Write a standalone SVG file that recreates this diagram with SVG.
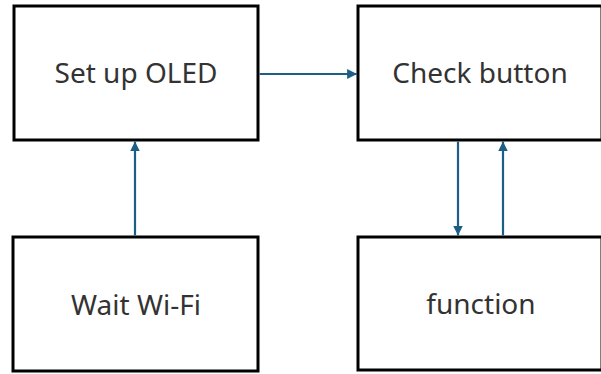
<svg xmlns="http://www.w3.org/2000/svg" width="601" height="374" viewBox="0 0 601 374">
<style>
.box{fill:#fff;stroke:#000;stroke-width:3}
.lbl{font-family:"Noto Sans","Open Sans",sans-serif;font-size:28px;fill:#333;text-anchor:middle}
.conn{stroke:#1b5f86;stroke-width:2.2;fill:none;marker-end:url(#ah)}
</style>
<defs>
<marker id="ah" viewBox="0 0 10 10" refX="10" refY="5" markerWidth="4.5" markerHeight="4.5" orient="auto" markerUnits="strokeWidth">
<path d="M0,0 L10,5 L0,10 z" fill="#1b5f86"/>
</marker>
</defs>
<rect width="601" height="374" fill="#fff"/>
<g id="node-setup"><rect class="box" x="14" y="6" width="244" height="134"/><text class="lbl" x="136" y="83">Set up OLED</text></g>
<g id="node-check"><rect class="box" x="358" y="6" width="244" height="134"/><text class="lbl" x="480" y="83">Check button</text></g>
<g id="node-wifi"><rect class="box" x="13" y="237" width="245" height="134"/><text class="lbl" x="136" y="315">Wait Wi-Fi</text></g>
<g id="node-function"><rect class="box" x="358" y="237" width="244" height="133"/><text class="lbl" x="481" y="314">function</text></g>
<g id="connectors">
<line class="conn" x1="259.5" y1="74" x2="357" y2="74"/>
<line class="conn" x1="135" y1="235.5" x2="135" y2="141.5"/>
<line class="conn" x1="458" y1="141.5" x2="458" y2="235.5"/>
<line class="conn" x1="503" y1="235.5" x2="503" y2="141.5"/>
</g>
</svg>
